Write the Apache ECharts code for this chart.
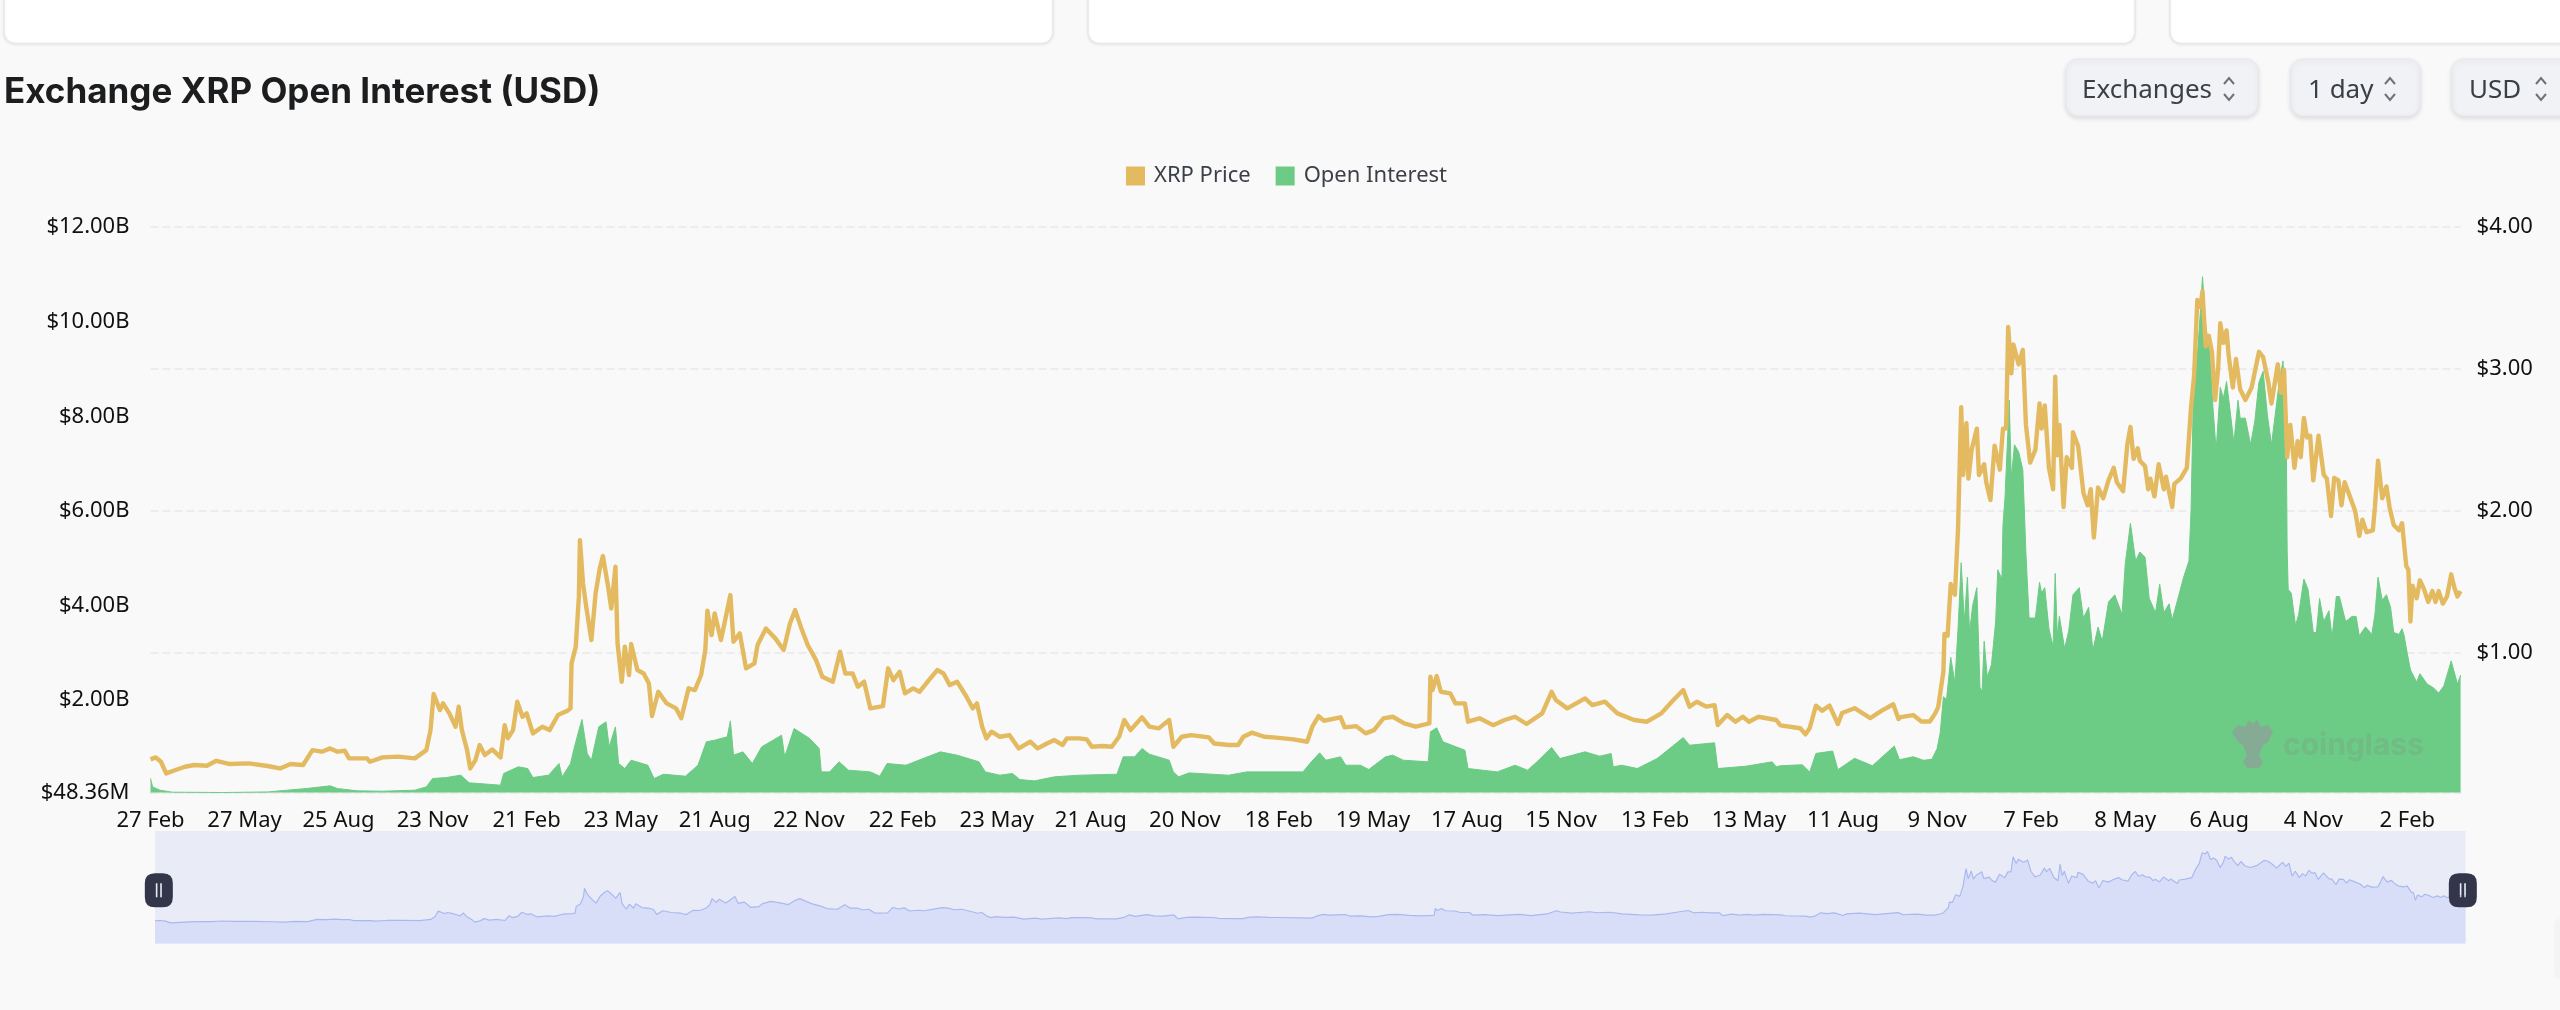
<!DOCTYPE html>
<html><head><meta charset="utf-8">
<style>html,body{margin:0;padding:0;background:#f9f9f9}#c{width:2560px;height:1010px}</style>
<script src="https://cdn.jsdelivr.net/npm/echarts@6/dist/echarts.min.js"></script>
</head><body><div id="c"></div>
<script>
// [days since 27 Feb 2020, USD price]
const priceSamples = [[0,.251],[5,.265],[10,.234],[15,.152],[24,.176],[33,.199],[42,.211],[54,.206],[63,.241],[76,.218],[94,.223],[112,.204],[124,.187],[134,.218],[146,.211],[155,.316],[164,.305],[172,.328],[179,.305],[186,.312],[190,.258],[207,.258],[210,.234],[222,.265],[237,.27],[253,.258],[264,.316],[268,.457],[271,.711],[277,.598],[280,.645],[286,.575],[292,.481],[295,.622],[298,.457],[303,.316],[306,.187],[311,.246],[315,.352],[320,.281],[327,.321],[335,.265],[339,.492],[342,.399],[347,.457],[351,.657],[356,.551],[360,.575],[366,.434],[375,.481],[382,.457],[390,.563],[399,.593],[402,.61],[403,.927],[407,1.044],[410,1.396],[411,1.795],[414,1.49],[417,1.326],[422,1.091],[426,1.42],[430,1.596],[433,1.683],[438,1.467],[441,1.314],[445,1.608],[447,1.068],[451,.798],[454,1.044],[458,.845],[460,1.063],[466,.88],[472,.856],[477,.786],[480,.556],[486,.727],[494,.645],[503,.61],[508,.54],[515,.751],[521,.739],[527,.845],[531,1.021],[533,1.298],[537,1.126],[540,1.279],[546,1.091],[550,1.232],[555,1.408],[558,1.079],[564,1.138],[570,.892],[578,.927],[581,1.056],[589,1.173],[598,1.103],[606,1.021],[612,1.208],[617,1.302],[623,1.173],[629,1.056],[637,.95],[643,.833],[653,.798],[660,1.009],[665,.856],[672,.856],[677,.762],[683,.798],[689,.61],[701,.626],[706,.892],[711,.809],[717,.868],[722,.716],[730,.751],[736,.727],[745,.809],[753,.88],[759,.856],[765,.774],[772,.798],[781,.692],[787,.61],[791,.645],[796,.481],[800,.399],[805,.446],[813,.41],[822,.422],[831,.328],[842,.375],[849,.328],[858,.363],[865,.387],[873,.352],[877,.399],[889,.399],[896,.392],[901,.34],[911,.345],[920,.34],[927,.41],[932,.528],[938,.457],[949,.547],[956,.481],[965,.469],[975,.528],[979,.34],[987,.41],[996,.422],[1013,.406],[1018,.363],[1032,.352],[1041,.352],[1046,.41],[1054,.439],[1066,.41],[1075,.406],[1094,.392],[1107,.375],[1112,.481],[1118,.556],[1123,.523],[1139,.547],[1143,.476],[1154,.485],[1163,.434],[1171,.457],[1180,.54],[1189,.551],[1200,.504],[1211,.481],[1224,.504],[1225,.833],[1227,.739],[1231,.838],[1235,.727],[1244,.716],[1249,.645],[1258,.645],[1261,.516],[1272,.54],[1285,.492],[1296,.528],[1306,.551],[1317,.5],[1332,.575],[1341,.727],[1345,.669],[1356,.61],[1373,.68],[1380,.633],[1392,.657],[1404,.575],[1420,.528],[1432,.516],[1446,.575],[1456,.657],[1467,.739],[1473,.622],[1480,.657],[1489,.622],[1497,.633],[1500,.493],[1509,.563],[1517,.516],[1524,.551],[1530,.516],[1539,.551],[1556,.528],[1560,.49],[1579,.47],[1584,.427],[1588,.47],[1594,.629],[1600,.594],[1607,.629],[1615,.5],[1619,.577],[1631,.611],[1646,.542],[1657,.594],[1668,.639],[1673,.535],[1675,.548],[1687,.563],[1695,.518],[1703,.518],[1708,.573],[1711,.619],[1713,.719],[1716,.87],[1717,1.134],[1720,1.122],[1723,1.486],[1727,1.411],[1730,1.876],[1733,2.731],[1735,2.254],[1738,2.618],[1740,2.228],[1743,2.43],[1748,2.58],[1750,2.254],[1755,2.329],[1757,2.203],[1761,2.077],[1765,2.46],[1770,2.291],[1773,2.58],[1776,2.58],[1778,3.297],[1781,2.97],[1783,3.172],[1788,3.033],[1792,3.134],[1795,2.606],[1799,2.341],[1804,2.43],[1808,2.757],[1810,2.58],[1813,2.744],[1817,2.304],[1821,2.153],[1823,2.945],[1825,2.392],[1827,2.606],[1831,2.027],[1834,2.379],[1839,2.304],[1840,2.555],[1845,2.455],[1850,2.128],[1854,2.04],[1857,2.153],[1860,1.813],[1864,2.165],[1869,2.09],[1874,2.216],[1879,2.304],[1882,2.203],[1888,2.14],[1892,2.467],[1895,2.593],[1898,2.367],[1902,2.442],[1904,2.354],[1909,2.316],[1912,2.153],[1914,2.228],[1918,2.103],[1922,2.329],[1927,2.153],[1929,2.241],[1935,2.027],[1937,2.191],[1943,2.228],[1949,2.304],[1953,2.731],[1956,2.958],[1959,3.486],[1962,3.436],[1964,3.549],[1967,3.159],[1970,3.234],[1973,3.121],[1976,2.782],[1979,3.008],[1981,3.322],[1984,3.184],[1987,3.272],[1989,3.096],[1993,2.87],[1996,3.071],[2000,2.857],[2005,2.782],[2011,2.87],[2018,3.121],[2022,3.083],[2027,2.907],[2030,2.757],[2036,3.033],[2039,2.832],[2042,2.995],[2045,2.379],[2048,2.606],[2052,2.304],[2055,2.492],[2058,2.379],[2061,2.656],[2064,2.518],[2067,2.53],[2070,2.216],[2075,2.53],[2080,2.254],[2083,2.228],[2087,1.964],[2090,2.233],[2094,2.216],[2097,2.04],[2100,2.203],[2105,2.103],[2110,2.002],[2114,1.826],[2117,1.939],[2121,1.851],[2127,1.864],[2129,2.027],[2132,2.354],[2136,2.09],[2140,2.173],[2143,2.027],[2147,1.901],[2152,1.864],[2155,1.914],[2159,1.612],[2161,1.587],[2163,1.222],[2165,1.474],[2169,1.386],[2172,1.512],[2176,1.449],[2180,1.36],[2184,1.436],[2187,1.36],[2190,1.436],[2194,1.348],[2198,1.398],[2202,1.554],[2205,1.461],[2208,1.398],[2211,1.436]];
// [days since 27 Feb 2020, open interest in USD billions]
const oiSamples = [[0,.344],[2,.167],[9,.097],[21,.055],[70,.048],[112,.06],[131,.097],[149,.132],[172,.189],[179,.132],[198,.083],[222,.076],[253,.097],[264,.167],[270,.344],[283,.365],[297,.414],[305,.252],[314,.238],[335,.203],[338,.449],[352,.59],[361,.555],[366,.365],[381,.414],[391,.661],[394,.379],[402,.661],[405,.943],[410,1.365],[413,1.591],[418,.872],[422,.731],[429,1.436],[436,1.542],[439,1.013],[445,1.436],[448,.661],[454,.555],[460,.731],[476,.625],[482,.344],[491,.435],[512,.393],[524,.625],[532,1.119],[540,1.154],[552,1.225],[555,1.563],[558,.837],[567,.907],[576,.661],[585,1.013],[604,1.26],[607,.802],[616,1.4],[631,1.189],[640,.978],[642,.484],[650,.484],[659,.696],[668,.52],[689,.484],[698,.393],[705,.661],[723,.625],[756,.907],[772,.837],[793,.696],[799,.484],[813,.414],[825,.45],[832,.322],[846,.294],[865,.379],[889,.414],[925,.435],[931,.802],[942,.802],[949,.978],[956,.858],[975,.731],[979,.484],[984,.379],[994,.463],[1032,.414],[1049,.484],[1103,.484],[1111,.696],[1119,.886],[1125,.731],[1139,.802],[1144,.625],[1158,.625],[1166,.534],[1182,.802],[1189,.837],[1199,.731],[1223,.696],[1225,1.33],[1231,1.415],[1237,1.119],[1258,.943],[1261,.555],[1289,.484],[1306,.625],[1318,.52],[1327,.696],[1341,1.0],[1349,.766],[1373,.907],[1387,.816],[1398,.872],[1400,.59],[1408,.625],[1423,.555],[1442,.766],[1454,.978],[1467,1.21],[1473,1.048],[1497,1.098],[1500,.555],[1527,.604],[1552,.696],[1556,.59],[1560,.614],[1581,.635],[1588,.479],[1594,.874],[1610,.925],[1615,.531],[1631,.77],[1648,.614],[1669,1.03],[1674,.74],[1687,.804],[1697,.728],[1705,.751],[1710,.978],[1713,1.318],[1716,2.073],[1719,2.012],[1723,2.904],[1727,2.375],[1730,3.508],[1733,4.905],[1736,3.659],[1739,4.603],[1741,3.432],[1744,3.999],[1748,4.377],[1751,2.262],[1753,2.187],[1755,3.244],[1758,2.488],[1762,2.753],[1766,3.659],[1768,4.754],[1772,4.565],[1773,5.698],[1775,6.3],[1779,8.342],[1781,6.68],[1784,7.398],[1788,7.247],[1792,6.869],[1795,5.094],[1798,3.735],[1804,3.735],[1808,4.49],[1810,4.263],[1813,4.377],[1817,3.508],[1821,3.13],[1823,4.679],[1825,3.357],[1827,3.772],[1832,3.092],[1836,3.47],[1840,4.226],[1846,4.377],[1850,3.735],[1855,3.961],[1859,3.055],[1864,3.546],[1868,3.244],[1874,4.074],[1880,4.226],[1887,3.81],[1890,4.868],[1895,5.736],[1900,4.943],[1904,5.132],[1909,5.018],[1913,4.15],[1919,3.848],[1923,4.452],[1927,3.848],[1932,4.036],[1935,3.697],[1946,4.603],[1951,4.943],[1953,6.0],[1955,8.19],[1959,9.25],[1962,10.23],[1964,10.95],[1967,9.93],[1971,9.32],[1974,8.19],[1977,7.28],[1981,8.61],[1984,8.38],[1987,8.735],[1990,8.19],[1994,7.44],[1998,8.34],[2000,7.96],[2005,7.96],[2010,7.4],[2014,7.89],[2018,8.72],[2022,8.95],[2026,8.04],[2030,7.4],[2037,8.64],[2041,9.17],[2044,7.89],[2045,5.17],[2046,4.34],[2049,4.26],[2053,3.58],[2056,3.81],[2061,4.56],[2065,4.34],[2070,3.43],[2073,3.43],[2076,4.15],[2080,3.66],[2085,3.89],[2088,3.32],[2092,4.19],[2095,4.19],[2101,3.66],[2107,3.77],[2111,3.77],[2114,3.36],[2120,3.55],[2126,3.39],[2129,3.81],[2132,4.6],[2136,4.11],[2140,4.23],[2144,3.96],[2147,3.43],[2152,3.39],[2155,3.51],[2157,3.36],[2160,2.98],[2163,2.64],[2169,2.38],[2172,2.56],[2179,2.34],[2185,2.26],[2190,2.15],[2195,2.3],[2202,2.83],[2208,2.34],[2211,2.53]];
const xTickDays = [0,90,180,270,360,450,540,630,720,810,900,990,1080,1170,1260,1350,1440,1530,1620,1710,1800,1890,1980,2070,2160];
const xTickLabels = ['27 Feb','27 May','25 Aug','23 Nov','21 Feb','23 May','21 Aug','22 Nov','22 Feb','23 May','21 Aug','20 Nov','18 Feb','19 May','17 Aug','15 Nov','13 Feb','13 May','11 Aug','9 Nov','7 Feb','8 May','6 Aug','4 Nov','2 Feb'];
const oiTicks = [0.04836,2,4,6,8,10,12];
const oiTickLabels = ['$48.36M','$2.00B','$4.00B','$6.00B','$8.00B','$10.00B','$12.00B'];
const priceTicks = [1,2,3,4];
const priceTickLabels = ['$1.00','$2.00','$3.00','$4.00'];

const FONT = '"Noto Sans", sans-serif';
const GOLD = '#e3ba60', GREEN = '#6ccb85';

function card(x, w){return {type:'rect',shape:{x:x,y:-20,width:w,height:63.5,r:11},style:{fill:'#fff',stroke:'#e8e8e8',lineWidth:1.5,shadowBlur:3,shadowColor:'rgba(0,0,0,.06)',shadowOffsetY:1}};}
function button(x, w, label, tx, cx){
  return [
    {type:'rect',shape:{x:x,y:59,width:w,height:57,r:12},style:{fill:'#f0f2f6',stroke:'#e6e8ee',lineWidth:1,shadowBlur:5,shadowColor:'rgba(0,0,0,.12)',shadowOffsetY:2}},
    {type:'text',x:tx,y:91,style:{text:label,font:'26px '+FONT,fill:'#3b3f46',textVerticalAlign:'middle',textAlign:'left'}},
    {type:'polyline',shape:{points:[[cx-5,84],[cx,78],[cx+5,84]]},style:{stroke:'#6d7178',lineWidth:2,fill:null}},
    {type:'polyline',shape:{points:[[cx-5,94],[cx,100],[cx+5,94]]},style:{stroke:'#6d7178',lineWidth:2,fill:null}}
  ];
}
const chrome = [card(4,1049),card(1088,1047),card(2170,420)]
  .concat(button(2066,192,'Exchanges',2082,2229))
  .concat(button(2291,129,'1 day',2308,2390))
  .concat(button(2452,140,'USD',2469,2541))
  .concat([
    {type:'rect',shape:{x:2554,y:918,width:20,height:62,r:8},style:{fill:'#f4f4f4'}},
    {type:'text',x:2283,y:746,z:50,style:{text:'coinglass',font:'bold 30px Inter, '+FONT,fill:'rgba(130,130,130,.22)',textVerticalAlign:'middle'}},
    {type:'polygon',z:50,shape:{points:[[2232,732],[2238,725],[2245,727],[2249,720],[2253,724],[2257,720],[2261,727],[2268,725],[2273,732],[2268,742],[2263,745],[2259,755],[2263,762],[2259,768],[2247,768],[2243,762],[2247,755],[2243,745],[2238,742]]},style:{fill:'rgba(150,150,160,.6)'}}
  ]);

const option = {
  animation:false,
  backgroundColor:'#f9f9f9',
  textStyle:{fontFamily:FONT},
  title:{text:'Exchange XRP Open Interest (USD)',left:-1,top:70,textStyle:{fontFamily:'Inter, '+FONT,fontWeight:700,fontSize:35,color:'#1c1d1f'}},
  legend:{left:1121,top:160,itemWidth:19,itemHeight:19,itemGap:25,icon:'rect',data:['XRP Price','Open Interest'],
    textStyle:{fontFamily:FONT,fontSize:22,color:'#3b3f46',padding:[0,0,0,4]}},
  grid:[
    {left:150.5,right:99.4,top:227,height:565.5,containLabel:false},
    {left:155,width:2310.6,top:831,height:112.5,show:true,borderWidth:0,backgroundColor:'#e9ecf7'}
  ],
  xAxis:[
    {type:'value',gridIndex:0,min:0,max:2211,splitLine:{show:false},
      axisLine:{show:true,onZero:false,lineStyle:{color:'#ececec',type:'dashed',width:2}},
      axisTick:{show:false},
      axisLabel:{customValues:xTickDays,margin:17,fontSize:22,fontFamily:FONT,color:'#111',hideOverlap:false,showMinLabel:true,showMaxLabel:true,
        formatter:v=>xTickLabels[xTickDays.indexOf(v)]}},
    {type:'value',gridIndex:1,min:0,max:2211,show:false}
  ],
  yAxis:[
    {type:'value',gridIndex:0,position:'left',min:oiTicks[0],max:12,splitLine:{show:false},axisLine:{show:false},
      axisTick:{show:false,customValues:oiTicks},
      axisLabel:{customValues:oiTicks,margin:21,fontSize:22,fontFamily:FONT,color:'#111',showMinLabel:true,showMaxLabel:true,padding:[3,0,0,0],
        formatter:v=>oiTickLabels[oiTicks.indexOf(v)]}},
    {type:'value',gridIndex:0,position:'right',min:0.0176,max:4,axisLine:{show:false},
      axisTick:{show:false,customValues:priceTicks},
      splitLine:{show:true,lineStyle:{color:'#ececec',type:'dashed',width:2}},
      axisLabel:{customValues:priceTicks,margin:16,fontSize:22,fontFamily:FONT,color:'#111',showMaxLabel:true,padding:[3,0,0,0],
        formatter:v=>priceTickLabels[priceTicks.indexOf(v)]}},
    {type:'value',gridIndex:1,min:-0.83,max:4.52,show:false}
  ],
  dataZoom:[{type:'slider',xAxisIndex:0,filterMode:'none',start:0,end:100,left:157,width:2306,top:833.5,height:112.5,
    showDataShadow:false,showDetail:false,brushSelect:false,moveHandleSize:0,realtime:false,
    backgroundColor:'rgba(0,0,0,0)',borderColor:'rgba(0,0,0,0)',fillerColor:'rgba(0,0,0,0)',
    handleIcon:'path://M10,0 H18 Q28,0 28,10 V24 Q28,34 18,34 H10 Q0,34 0,24 V10 Q0,0 10,0 Z M11,10 V24 H12.6 V10 Z M15.4,10 V24 H17 V10 Z',
    handleSize:34,handleStyle:{color:'#33364b',borderWidth:0}}],
  series:[
    {name:'Open Interest',type:'line',xAxisIndex:0,yAxisIndex:0,data:oiSamples,showSymbol:false,z:2,
      itemStyle:{color:GREEN},lineStyle:{color:GREEN,width:1},areaStyle:{color:GREEN,opacity:1},silent:true},
    {name:'XRP Price',type:'line',xAxisIndex:0,yAxisIndex:1,data:priceSamples,showSymbol:false,z:3,
      itemStyle:{color:GOLD},lineStyle:{color:GOLD,width:4.4,join:'round'},silent:true},
    {name:'Price overview',type:'line',xAxisIndex:1,yAxisIndex:2,data:priceSamples,showSymbol:false,
      itemStyle:{color:'#a9b9f0'},lineStyle:{color:'#a9b9f0',width:1.2},areaStyle:{color:'#d9def8',opacity:1,origin:'start'},silent:true}
  ],
  graphic:chrome
};
echarts.init(document.getElementById('c')).setOption(option);
</script></body></html>
